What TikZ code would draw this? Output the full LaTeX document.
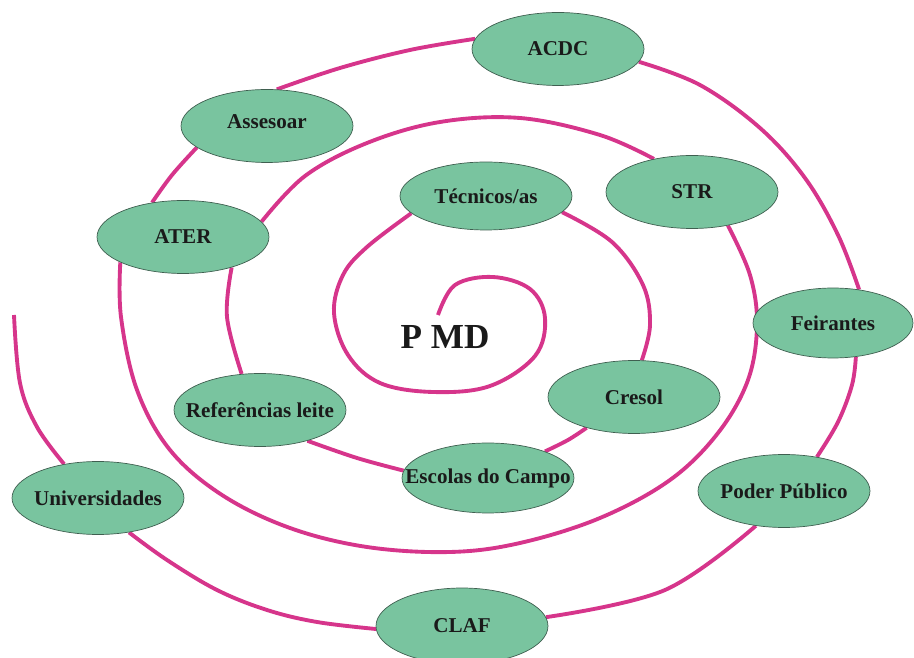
\documentclass[tikz,border=0pt]{standalone}
\usepackage{fontspec}
\setmainfont{Liberation Serif}
\usetikzlibrary{shapes.geometric,backgrounds}
\definecolor{spiralpink}{HTML}{D6358B}
\definecolor{nodegreen}{HTML}{79C49F}
\definecolor{nodeline}{HTML}{3F5F50}
\definecolor{textdark}{HTML}{1A1A1A}
\newcommand{\fixtext}[1]{\makebox[0pt][c]{#1}}
\begin{document}
\begin{tikzpicture}[x=0.02cm,y=-0.02cm,
  actor/.style={ellipse, draw=nodeline, line width=0.4pt, fill=nodegreen,
    minimum width=3.44cm, minimum height=1.46cm, inner sep=0pt,
    text=textdark, font=\fontsize{12}{14}\selectfont\bfseries},
  spiral/.style={draw=spiralpink, line width=2.2pt},
  centre/.style={inner sep=0pt, text=textdark, font=\fontsize{20}{24}\selectfont\bfseries}]
\useasboundingbox (0,0) rectangle (914,658);
\node[actor] (acdc) at (558,49) {\fixtext{ACDC}};
\node[actor] (ass) at (267,126) {\fixtext{\raisebox{2.5pt}[\height][\depth]{Assesoar}}};
\node[actor] (ater) at (183,237) {\fixtext{ATER}};
\node[actor, minimum height=1.36cm] (tec) at (486,196) {\fixtext{Técnicos/as}};
\node[actor] (str) at (692,192) {\fixtext{STR}};
\node[actor, minimum width=3.2cm, minimum height=1.40cm] (feir) at (833,323) {\fixtext{Feirantes}};
\node[actor] (cresol) at (634,397) {\fixtext{Cresol}};
\node[actor, minimum height=1.40cm] (esc) at (488,478) {\fixtext{Escolas do Campo}};
\node[actor] (ref) at (260,410) {\fixtext{Referências leite}};
\node[actor] (univ) at (98,498) {\fixtext{Universidades}};
\node[actor] (poder) at (784,491) {\fixtext{Poder Público}};
\node[actor, minimum height=1.52cm] (claf) at (462,626) {\fixtext{CLAF}};
\node[centre] (pmd) at (445,337) {P MD};
\coordinate (start) at (438,315);
\coordinate (tail) at (14,315);
\begin{pgfonlayer}{background}
\draw[spiral] plot[smooth,tension=0.6] coordinates {(start) (455,285) (493,277) (530,289) (545,318) (535,356) (490,386) (433,392) (380,383) (348,355) (334,313) (343,275) (367,247) (tec.193)};
\draw[spiral] plot[smooth,tension=0.6] coordinates {(tec.-12) (612,242) (643,285) (650,325) (cresol.78)};
\draw[spiral] plot[smooth,tension=0.6] coordinates {(cresol.213) (568,440) (esc.25)};
\draw[spiral] plot[smooth,tension=0.6] coordinates {(esc.175) (357,458) (ref.-33)};
\draw[spiral] plot[smooth,tension=0.6] coordinates {(ref.117) (227,317) (ater.-32)};
\draw[spiral] plot[smooth,tension=0.6] coordinates {(ater.11) (305,176) (367,143) (440,122) (520,118) (600,135) (str.139)};
\draw[spiral] plot[smooth,tension=0.6] coordinates {(str.-43) (750,275) (757,325) (748,380) (718,433) (670,480) (600,518) (520,543) (450,552) (367,547) (290,528) (222,495) (170,450) (137,390) (121,317) (ater.202)};
\draw[spiral] plot[smooth,tension=0.6] coordinates {(ater.132) (172,175) (ass.197)};
\draw[spiral] plot[smooth,tension=0.6] coordinates {(ass.75) (340,68) (410,50) (acdc.173)};
\draw[spiral] plot[smooth,tension=0.6] coordinates {(acdc.-9) (700,85) (760,128) (805,178) (838,235) (feir.52)};
\draw[spiral] plot[smooth,tension=0.6] coordinates {(feir.-56) (852,385) (838,422) (poder.46)};
\draw[spiral] plot[smooth,tension=0.6] coordinates {(poder.231) (665,590) (claf.6)};
\draw[spiral] plot[smooth,tension=0.6] coordinates {(claf.182) (317,622) (267,610) (217,590) (167,560) (univ.-48)};
\draw[spiral] plot[smooth,tension=0.6] coordinates {(univ.135) (37,427) (20,383) (tail)};
\end{pgfonlayer}
\end{tikzpicture}
\end{document}
